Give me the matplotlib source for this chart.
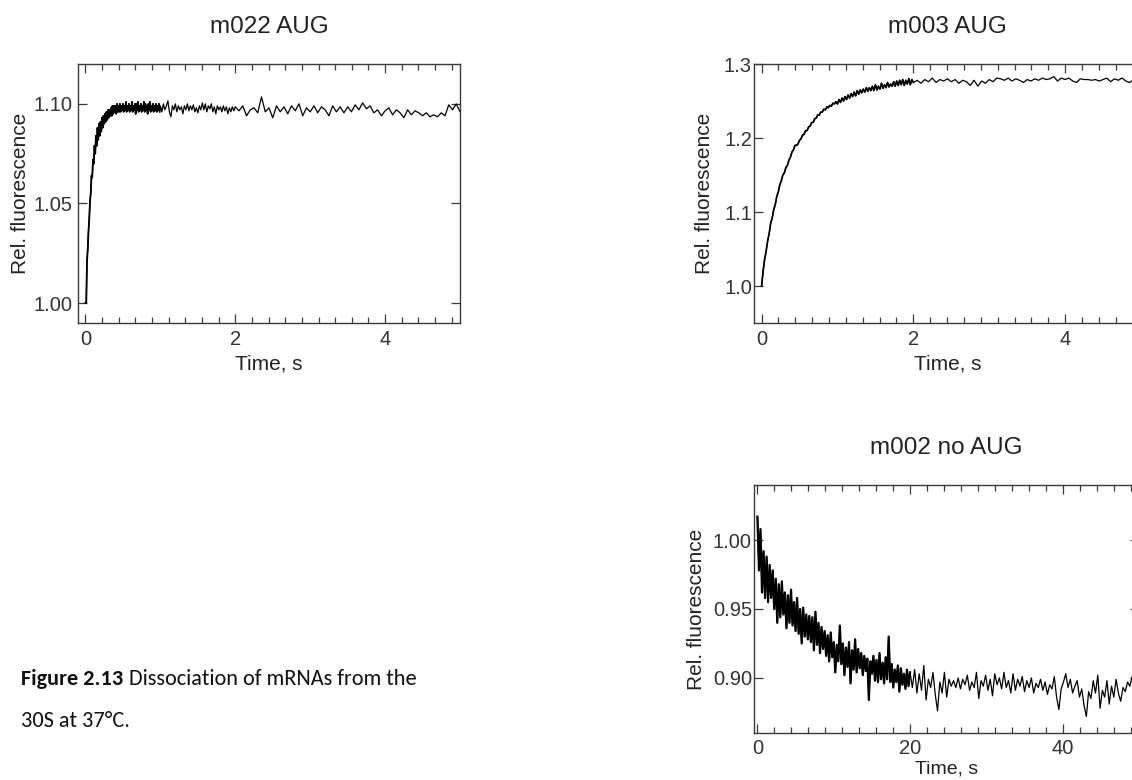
import numpy as np
import matplotlib
matplotlib.use('Agg')
import matplotlib.pyplot as plt
from matplotlib import font_manager
from matplotlib.ticker import AutoMinorLocator, FixedLocator, FormatStrFormatter

plt.rcParams['font.family'] = ['Liberation Sans', 'DejaVu Sans']

# ---------------- text ----------------
titles = ["m022 AUG", "m003 AUG", "m002 no AUG"]
x_label = "Time, s"
y_label = "Rel. fluorescence"
caption_bold = "Figure 2.13"
caption_line1 = "Dissociation of mRNAs from the"
caption_line2 = "30S at 37°C."

# ---------------- data: m022 AUG ----------------
# t = 0.00 ... 0.99 s (0.01 s steps)
m022_fast = [
    1.000, 1.000, 1.021, 1.027, 1.036, 1.042, 1.051, 1.055, 1.064, 1.063,
    1.072, 1.070, 1.079, 1.075, 1.084, 1.079, 1.088, 1.082, 1.090, 1.084,
    1.091, 1.086, 1.093, 1.088, 1.094, 1.090, 1.095, 1.091, 1.096, 1.092,
    1.097, 1.093, 1.097, 1.094, 1.098, 1.094, 1.099, 1.095, 1.099, 1.096,
    1.099, 1.095, 1.100, 1.096, 1.099, 1.096, 1.100, 1.096, 1.099, 1.097,
    1.100, 1.096, 1.099, 1.097, 1.101, 1.096, 1.099, 1.097, 1.100, 1.096,
    1.099, 1.097, 1.101, 1.096, 1.099, 1.097, 1.100, 1.095, 1.100, 1.097,
    1.101, 1.096, 1.099, 1.097, 1.100, 1.096, 1.099, 1.097, 1.101, 1.096,
    1.100, 1.097, 1.099, 1.095, 1.100, 1.097, 1.101, 1.096, 1.099, 1.097,
    1.100, 1.096, 1.099, 1.097, 1.100, 1.096, 1.099, 1.097, 1.100, 1.096,
]
# t = 1.00 ... 1.98 s (0.02 s steps)
m022_mid = [
    1.0990, 1.0960, 1.1000, 1.0970, 1.0990, 1.1015, 1.0960, 1.0935, 1.0990, 1.0970,
    1.1000, 1.0960, 1.0990, 1.0970, 1.0985, 1.0950, 1.0990, 1.0970, 1.1000, 1.0965,
    1.0990, 1.0970, 1.0995, 1.0960, 1.0980, 1.0955, 1.0990, 1.0970, 1.1005, 1.0970,
    1.1000, 1.0960, 1.0990, 1.0975, 1.1000, 1.0960, 1.0985, 1.0950, 1.0990, 1.0970,
    1.0985, 1.0960, 1.0990, 1.0965, 1.0985, 1.0950, 1.0980, 1.0960, 1.0985, 1.0965,
]
# t = 2.00 ... 5.00 s (0.05 s steps)
m022_slow = [
    1.0985, 1.0965, 1.0990, 1.0940, 1.0970, 1.0980, 1.0955, 1.1035, 1.0960, 1.0980,
    1.0930, 1.0990, 1.0960, 1.0985, 1.0950, 1.0990, 1.0965, 1.1000, 1.0940, 1.0980,
    1.0960, 1.0990, 1.0955, 1.0985, 1.0970, 1.0940, 1.0990, 1.0960, 1.0985, 1.0955,
    1.0985, 1.0960, 1.0995, 1.0970, 1.1005, 1.0975, 1.0990, 1.0955, 1.0970, 1.0940,
    1.0965, 1.0980, 1.0945, 1.0970, 1.0955, 1.0930, 1.0970, 1.0945, 1.0965, 1.0955,
    1.0940, 1.0955, 1.0935, 1.0945, 1.0935, 1.0955, 1.0940, 1.0995, 1.0970, 1.1000,
    1.0960,
]

# ---------------- data: m003 AUG ----------------
# t = 0.00 ... 2.00 s (0.02 s steps)
m003_fast = [
    1.000, 1.020, 1.036, 1.047, 1.061, 1.071, 1.085, 1.092, 1.103, 1.110,
    1.121, 1.127, 1.137, 1.142, 1.150, 1.153, 1.160, 1.163, 1.170, 1.174,
    1.181, 1.184, 1.190, 1.190, 1.192, 1.197, 1.199, 1.204, 1.205, 1.210,
    1.210, 1.215, 1.216, 1.221, 1.221, 1.226, 1.227, 1.231, 1.231, 1.235,
    1.235, 1.239, 1.238, 1.242, 1.241, 1.244, 1.243, 1.247, 1.246, 1.249,
    1.246, 1.252, 1.248, 1.254, 1.250, 1.256, 1.252, 1.258, 1.254, 1.260,
    1.256, 1.262, 1.257, 1.264, 1.259, 1.265, 1.261, 1.266, 1.262, 1.268,
    1.263, 1.268, 1.264, 1.270, 1.264, 1.272, 1.265, 1.270, 1.266, 1.274,
    1.267, 1.272, 1.268, 1.275, 1.269, 1.273, 1.270, 1.276, 1.270, 1.277,
    1.271, 1.278, 1.272, 1.279, 1.271, 1.278, 1.273, 1.280, 1.272, 1.279,
    1.275,
]
# t = 2.05 ... 5.00 s (0.05 s steps)
m003_slow = [
    1.278, 1.274, 1.279, 1.276, 1.281, 1.275, 1.279, 1.277, 1.280, 1.276,
    1.279, 1.274, 1.278, 1.276, 1.271, 1.278, 1.270, 1.277, 1.274, 1.279,
    1.276, 1.281, 1.280, 1.278, 1.281, 1.277, 1.280, 1.278, 1.275, 1.279,
    1.277, 1.280, 1.278, 1.281, 1.279, 1.280, 1.283, 1.277, 1.281, 1.279,
    1.281, 1.277, 1.275, 1.280, 1.279, 1.279, 1.278, 1.279, 1.277, 1.279,
    1.281, 1.276, 1.280, 1.278, 1.281, 1.277, 1.275, 1.279, 1.277, 1.282,
]

# ---------------- data: m002 no AUG ----------------
# t = 0.0 ... 20.0 s (0.2 s steps)
m002_fast = [
    1.017, 0.978, 1.008, 0.962, 0.992, 0.958, 0.988, 0.955, 0.982, 0.958,
    0.978, 0.950, 0.972, 0.940, 0.968, 0.944, 0.970, 0.946, 0.962, 0.936,
    0.960, 0.940, 0.964, 0.938, 0.955, 0.934, 0.958, 0.932, 0.950, 0.925,
    0.951, 0.930, 0.946, 0.928, 0.945, 0.926, 0.944, 0.920, 0.948, 0.924,
    0.940, 0.918, 0.937, 0.921, 0.934, 0.916, 0.931, 0.912, 0.933, 0.915,
    0.926, 0.904, 0.924, 0.912, 0.938, 0.910, 0.925, 0.902, 0.922, 0.908,
    0.926, 0.896, 0.920, 0.906, 0.928, 0.904, 0.921, 0.907, 0.918, 0.902,
    0.916, 0.905, 0.914, 0.884, 0.912, 0.903, 0.916, 0.898, 0.913, 0.897,
    0.918, 0.899, 0.911, 0.896, 0.915, 0.899, 0.930, 0.897, 0.910, 0.893,
    0.906, 0.897, 0.909, 0.890, 0.907, 0.895, 0.903, 0.892, 0.906, 0.894,
    0.904,
]
# t = 20.3 ... 50.0 s (0.3 s steps)
m002_slow = [
    0.893, 0.906, 0.889, 0.903, 0.891, 0.909, 0.884, 0.899, 0.893, 0.904,
    0.888, 0.876, 0.897, 0.889, 0.904, 0.886, 0.899, 0.894, 0.898, 0.893,
    0.900, 0.892, 0.899, 0.895, 0.902, 0.891, 0.897, 0.893, 0.904, 0.885,
    0.898, 0.894, 0.902, 0.891, 0.899, 0.887, 0.903, 0.895, 0.900, 0.892,
    0.904, 0.893, 0.898, 0.889, 0.903, 0.891, 0.899, 0.894, 0.901, 0.890,
    0.898, 0.893, 0.900, 0.889, 0.896, 0.893, 0.899, 0.891, 0.897, 0.888,
    0.895, 0.892, 0.901, 0.886, 0.877, 0.892, 0.897, 0.903, 0.893, 0.899,
    0.889, 0.894, 0.898, 0.886, 0.892, 0.880, 0.872, 0.890, 0.885, 0.898,
    0.889, 0.902, 0.878, 0.891, 0.886, 0.898, 0.881, 0.894, 0.886, 0.899,
    0.889, 0.883, 0.893, 0.890, 0.897, 0.894, 0.901, 0.896, 0.902, 0.900,
]

m022_t_fast = np.linspace(0.0, 0.99, len(m022_fast))
m022_time = np.concatenate([m022_t_fast,
                            np.linspace(1.0, 1.98, len(m022_mid)),
                            np.linspace(2.0, 5.0, len(m022_slow))])
m022_vals = np.array(m022_fast + m022_mid + m022_slow)

m003_t_fast = np.linspace(0.0, 2.0, len(m003_fast))
m003_time = np.concatenate([m003_t_fast, np.linspace(2.05, 5.0, len(m003_slow))])
m003_vals = np.array(m003_fast + m003_slow)

m002_t_fast = np.linspace(0.0, 20.0, len(m002_fast))
m002_time = np.concatenate([m002_t_fast, np.linspace(20.3, 50.0, len(m002_slow))])
m002_vals = np.array(m002_fast + m002_slow)

# ---------------- figure ----------------
W, H = 1132, 780
fig = plt.figure(figsize=(W / 100, H / 100), dpi=100)
fig.patch.set_facecolor('white')

TXT = '#222222'
SP = '#3a3a3a'

def make_axes(left, top, right, bottom):
    ax = fig.add_axes([left / W, 1 - bottom / H, (right - left) / W, (bottom - top) / H])
    ax._px = (left, top, right, bottom)
    return ax

def style(ax, xlim, ylim, xmaj, yticks, yfmt, title, ypad, ylab_cx, xlab_cy,
          xlab_size=15, xpad=5):
    left, top, right, bottom = ax._px
    ax.set_xlim(*xlim)
    ax.set_ylim(*ylim)
    ax.xaxis.set_major_locator(FixedLocator(xmaj))
    ax.xaxis.set_minor_locator(AutoMinorLocator(9))
    ax.yaxis.set_major_locator(FixedLocator(yticks))
    ax.yaxis.set_major_formatter(FormatStrFormatter(yfmt))
    for s in ax.spines.values():
        s.set_color(SP)
        s.set_linewidth(1.0)
    ax.tick_params(which='both', direction='in', top=True, right=True,
                   color=SP, width=0.9, labelsize=14.5, labelcolor='#333333')
    ax.tick_params(axis='x', pad=xpad)
    ax.tick_params(axis='y', pad=ypad)
    ax.tick_params(which='major', length=6.5)
    ax.tick_params(which='minor', length=4)
    ax.set_xlabel(x_label, fontsize=xlab_size, color=TXT)
    ax.set_ylabel(y_label, fontsize=15, color=TXT)
    ax.yaxis.label.set_verticalalignment('center')
    ax.xaxis.label.set_verticalalignment('center')
    ax.yaxis.set_label_coords((ylab_cx - left) / (right - left), 0.5)
    ax.xaxis.set_label_coords(0.5, -(xlab_cy - bottom) / (bottom - top))
    ax.set_title(title, fontsize=17.5, color=TXT, pad=22)

ax1 = make_axes(78, 64, 460, 323)
ax1.plot(m022_time, m022_vals, color='black', lw=0.9)
ax1.plot(m022_t_fast, m022_fast, color='black', lw=1.3)
style(ax1, (-0.1, 5.0), (0.99, 1.12), [0, 2, 4], [1.00, 1.05, 1.10], '%.2f',
      titles[0], ypad=4, ylab_cx=21, xlab_cy=364)

ax2 = make_axes(754, 64, 1141, 323)
ax2.plot(m003_time, m003_vals, color='black', lw=0.9)
ax2.plot(m003_t_fast, m003_fast, color='black', lw=1.2)
style(ax2, (-0.1, 5.0), (0.95, 1.30), [0, 2, 4], [1.0, 1.1, 1.2, 1.3], '%.1f',
      titles[1], ypad=1.5, ylab_cx=705, xlab_cy=364)

ax3 = make_axes(754, 485, 1139, 733)
ax3.plot(m002_time, m002_vals, color='black', lw=0.9)
ax3.plot(m002_t_fast, m002_fast, color='black', lw=1.6)
style(ax3, (-0.45, 50.0), (0.86, 1.04), [0, 20, 40], [0.90, 0.95, 1.00], '%.2f',
      titles[2], ypad=1.5, ylab_cx=696, xlab_cy=769, xlab_size=14, xpad=4)

# ---------------- caption ----------------
installed = {f.name for f in font_manager.fontManager.ttflist}
if 'Carlito' in installed:
    cap_font = ['Carlito', 'DejaVu Sans']
    target_w = 398
else:
    cap_font = ['Lato', 'DejaVu Sans']
    target_w = 440

renderer = fig.canvas.get_renderer()
x0 = 21
base1 = 685
base2 = 727

def draw_caption(size):
    t1 = fig.text(x0 / W, 1 - base1 / H, caption_bold, fontweight='bold', family=cap_font,
                  fontsize=size, color='#111111', va='baseline')
    bb = t1.get_window_extent(renderer)
    gap = size * 100 / 72 * 0.25
    t2 = fig.text((bb.x1 + gap) / W, 1 - base1 / H, caption_line1, family=cap_font,
                  fontsize=size, color='#111111', va='baseline')
    t3 = fig.text(x0 / W, 1 - base2 / H, caption_line2, family=cap_font,
                  fontsize=size, color='#111111', va='baseline')
    width = t2.get_window_extent(renderer).x1 - bb.x0
    return [t1, t2, t3], width

arts, w = draw_caption(15)
for a in arts:
    a.remove()
arts, w = draw_caption(15 * target_w / w)

fig.savefig('out.png', dpi=100, facecolor='white')
